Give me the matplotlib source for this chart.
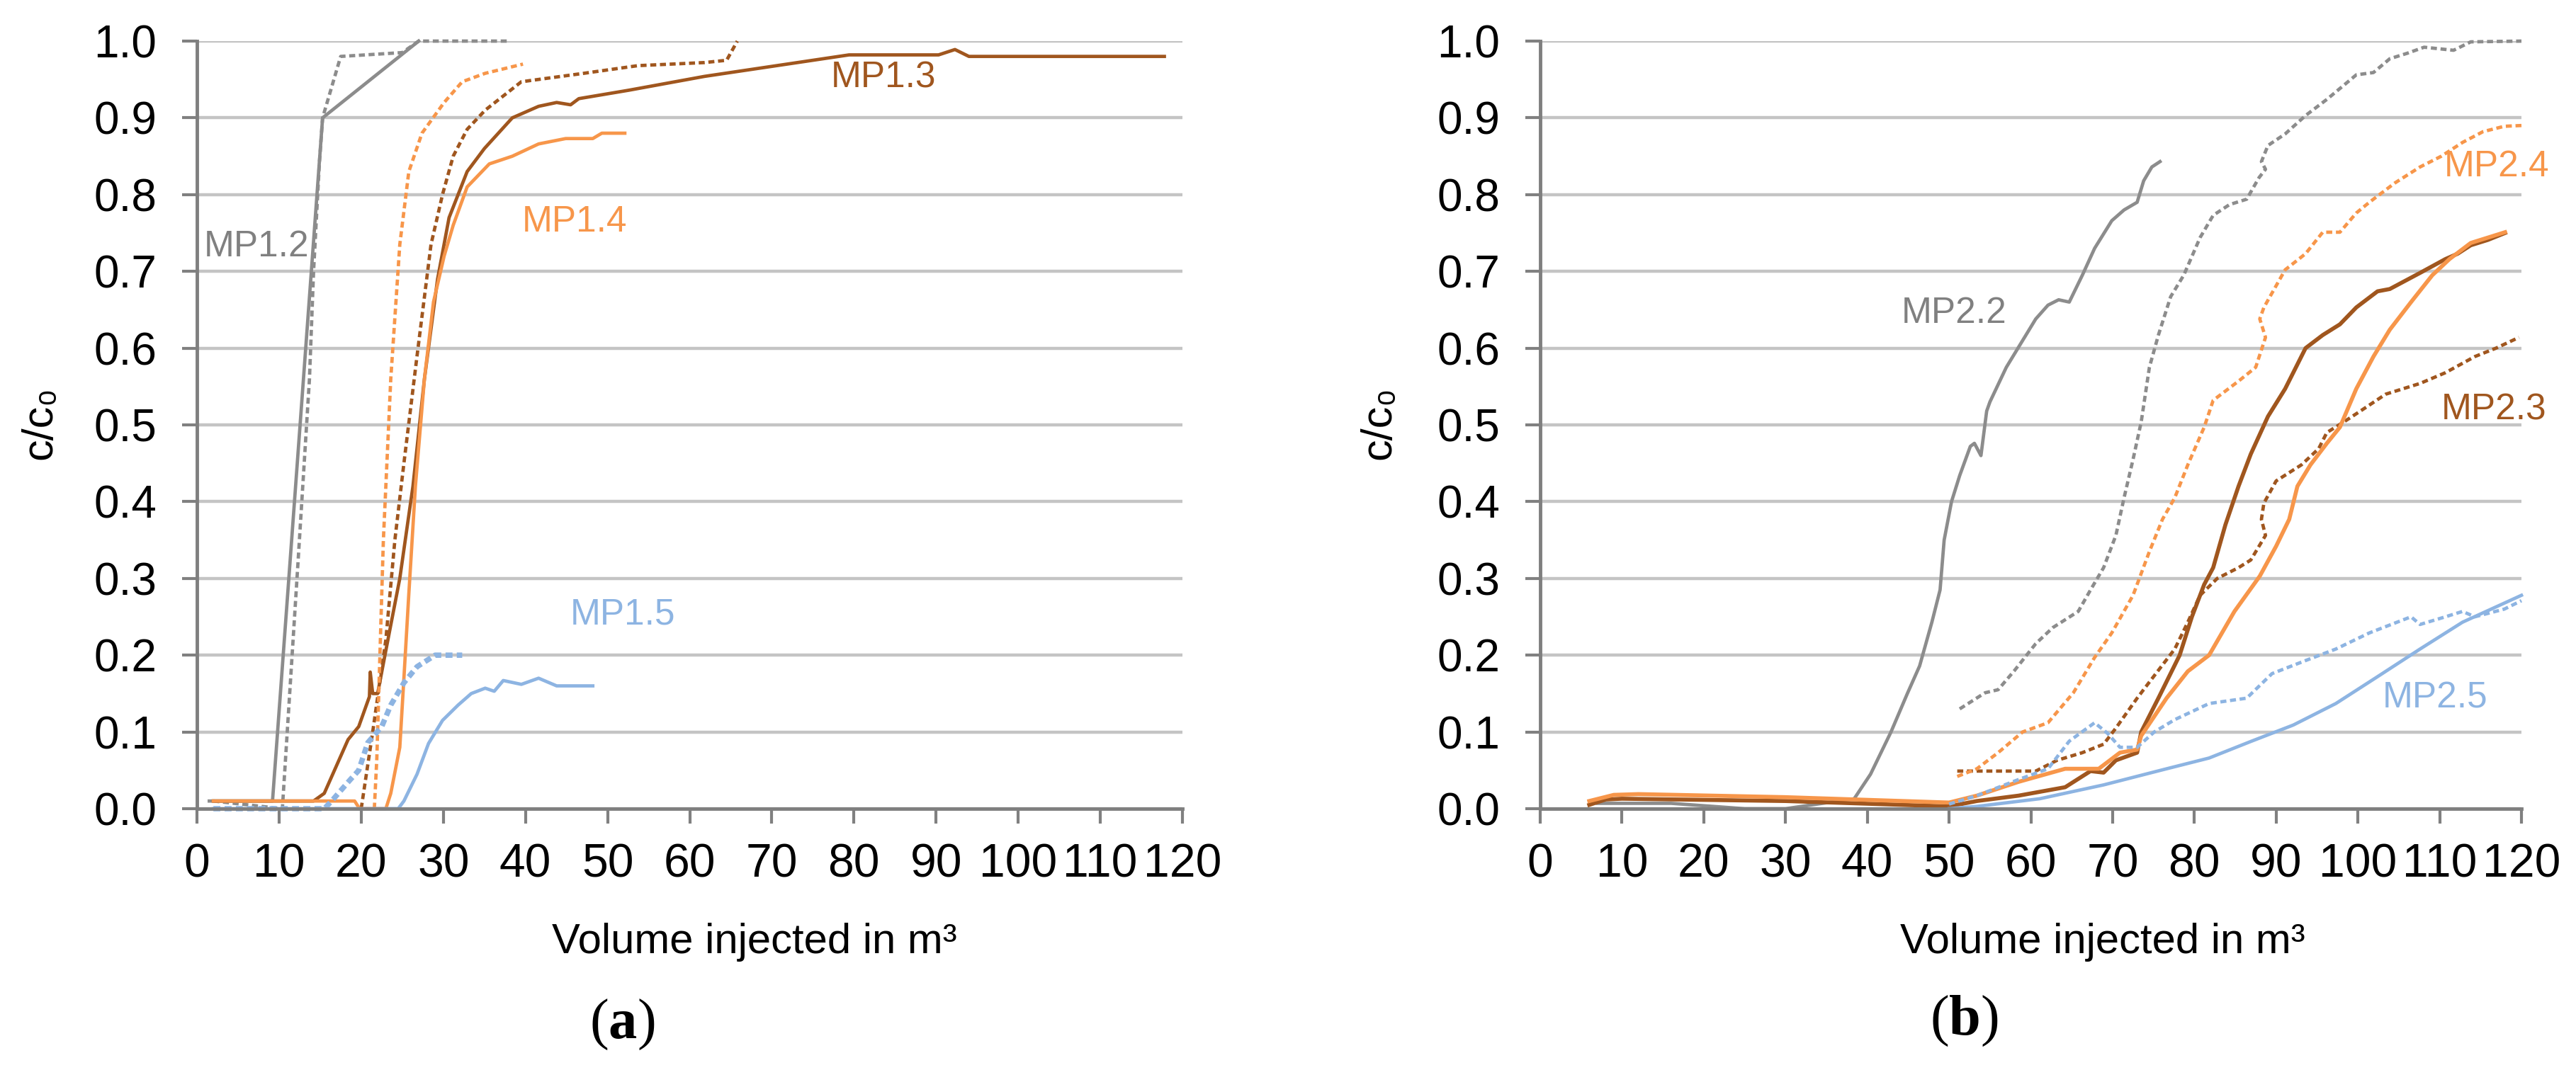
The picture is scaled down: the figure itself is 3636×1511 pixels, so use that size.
import matplotlib
matplotlib.use("Agg")
import matplotlib.pyplot as plt

plt.rcParams['font.family'] = ['Liberation Sans', 'DejaVu Sans']
plt.rcParams['mathtext.fontset'] = 'custom'
plt.rcParams['mathtext.rm'] = 'Liberation Serif'
plt.rcParams['mathtext.bf'] = 'Liberation Serif:bold'

GREY = '#8c8c8c'
BROWN = '#a0561e'
ORANGE = '#f7964a'
BLUE = '#8db4e2'

# ---------------- Panel (a) data ----------------
mp12_x = [1.5, 9.2, 15.3, 27.0]
mp12_y = [0.01, 0.01, 0.90, 1.00]
mp12d_x = [2, 10.4, 12.3, 13.7, 14.2, 14.9, 15.3, 17.5, 25.0, 27.0, 38.0]
mp12d_y = [0.01, 0.0, 0.32, 0.56, 0.70, 0.84, 0.90, 0.98, 0.985, 1.0, 1.0]

mp13_x = [2, 14.2, 15.5, 18.4, 19.7, 21.0, 21.1, 21.4, 22.0, 23.0, 24.7, 26.3, 27.7, 29.3, 30.7,
          32.9, 35.0, 38.4, 41.6, 43.8, 45.5, 46.5, 52.6, 61.8, 79.4, 90.3, 92.3, 94.0, 117.8]
mp13_y = [0.01, 0.01, 0.02, 0.09, 0.107, 0.146, 0.178, 0.15, 0.15, 0.206, 0.30, 0.42, 0.56, 0.69, 0.77,
          0.83, 0.86, 0.90, 0.915, 0.92, 0.917, 0.925, 0.936, 0.954, 0.982, 0.982, 0.989, 0.98, 0.98]
mp13d_x = [20.0, 21.4, 23.0, 24.1, 25.2, 26.8, 28.5, 29.9, 31.2, 32.9, 35.1, 39.5, 47.1, 53.7, 61.8, 64.5, 65.8]
mp13d_y = [0.0, 0.10, 0.22, 0.35, 0.45, 0.59, 0.735, 0.80, 0.85, 0.885, 0.91, 0.947, 0.958, 0.968, 0.972, 0.975, 1.0]

mp14_x = [2, 19.2, 19.8, 23.0, 23.6, 24.7, 25.2, 25.8, 26.6, 27.7, 28.8, 30.1, 31.2, 32.9, 35.6,
          38.4, 41.6, 44.9, 48.2, 49.3, 52.1]
mp14_y = [0.01, 0.01, 0.0, 0.0, 0.02, 0.08, 0.17, 0.28, 0.42, 0.56, 0.66, 0.72, 0.76, 0.81, 0.84,
          0.85, 0.866, 0.873, 0.873, 0.88, 0.88]
mp14d_x = [21.6, 21.9, 22.7, 23.6, 24.7, 25.8, 27.4, 30.1, 32.3, 35.1, 39.7]
mp14d_y = [0.0, 0.065, 0.35, 0.56, 0.735, 0.83, 0.88, 0.92, 0.947, 0.958, 0.97]

mp15_x = [2, 24.5, 25.2, 26.8, 28.2, 29.9, 31.8, 33.4, 35.1, 36.2, 37.3, 39.5, 41.6, 43.8, 48.2]
mp15_y = [0.0, 0.0, 0.01, 0.045, 0.085, 0.115, 0.135, 0.15, 0.157, 0.153, 0.167, 0.162, 0.17, 0.16, 0.16]
mp15d_x = [2, 15.5, 16.4, 18.6, 19.7, 20.8, 22.5, 23.6, 25.2, 26.8, 29.0, 32.3]
mp15d_y = [0.0, 0.0, 0.01, 0.037, 0.05, 0.086, 0.107, 0.135, 0.164, 0.185, 0.2, 0.2]

# ---------------- Panel (b) data ----------------
mp22_x = [7, 16, 25, 30, 38.4, 40.4, 42.9, 44.9, 46.4, 47.9, 48.9, 49.4, 50.3, 51.3, 52.6, 53.1, 53.9,
          54.6, 55.0, 57.0, 59.0, 60.6, 62.1, 63.4, 64.7, 66.3, 67.8, 69.9, 71.4, 73.0, 73.8, 74.8, 75.8]
mp22_y = [0.007, 0.007, 0.0, 0.0, 0.013, 0.045, 0.10, 0.15, 0.186, 0.243, 0.285, 0.35, 0.40, 0.434, 0.472,
          0.476, 0.46, 0.518, 0.53, 0.575, 0.61, 0.638, 0.656, 0.663, 0.66, 0.695, 0.73, 0.766, 0.78,
          0.79, 0.818, 0.836, 0.843]
mp22d_x = [51.3, 54.4, 56.0, 58.0, 60.6, 62.7, 65.8, 67.3, 68.9, 70.4, 71.4, 72.5, 73.5, 74.5, 75.6,
           77.1, 78.7, 80.7, 82.3, 84.3, 86.4, 87.9, 88.7, 88.2, 89.0, 91.1, 93.6, 96.2, 99.8, 101.9,
           103.9, 106.0, 108.1, 111.7, 113.8, 120.0]
mp22d_y = [0.13, 0.151, 0.155, 0.18, 0.215, 0.236, 0.257, 0.285, 0.314, 0.356, 0.405, 0.455, 0.504,
           0.575, 0.617, 0.667, 0.695, 0.744, 0.773, 0.787, 0.794, 0.822, 0.833, 0.843, 0.864, 0.879,
           0.903, 0.924, 0.956, 0.959, 0.977, 0.984, 0.992, 0.988, 0.999, 1.0]

mp23_x = [6, 8, 10, 30, 50, 53.4, 58.5, 64.2, 67.3, 68.9, 70.4, 73.0, 73.5, 75.6, 78.2, 79.7, 81.2,
          82.3, 83.8, 85.4, 86.9, 89.0, 91.1, 93.6, 95.7, 97.8, 99.8, 102.4, 103.9, 107.6, 110.7,
          112.2, 113.8, 115.9, 118.0]
mp23_y = [0.005, 0.012, 0.013, 0.01, 0.003, 0.01, 0.017, 0.028, 0.049, 0.047, 0.063, 0.073, 0.10,
          0.144, 0.2, 0.25, 0.292, 0.314, 0.37, 0.42, 0.462, 0.511, 0.547, 0.6, 0.617, 0.631, 0.653,
          0.674, 0.677, 0.698, 0.716, 0.723, 0.734, 0.741, 0.75]
mp23d_x = [51.0, 60.6, 63.2, 66.3, 68.9, 70.4, 73.0, 74.5, 77.6, 79.2, 80.7, 82.8, 85.4, 86.9, 88.7,
           88.2, 88.5, 90.0, 93.1, 95.2, 96.2, 98.3, 100.3, 103.4, 107.6, 110.7, 114.3, 116.9, 119.7]
mp23d_y = [0.049, 0.049, 0.063, 0.073, 0.084, 0.105, 0.144, 0.165, 0.208, 0.243, 0.278, 0.30, 0.314,
           0.324, 0.356, 0.377, 0.398, 0.427, 0.448, 0.469, 0.49, 0.504, 0.518, 0.54, 0.554, 0.568,
           0.589, 0.60, 0.614]

mp24_x = [6, 9, 12, 30, 50, 53.4, 58.5, 64.2, 68.3, 70.9, 73.0, 73.5, 76.6, 79.2, 81.8, 84.9, 88.0,
          90.0, 91.6, 92.6, 94.2, 96.2, 97.8, 99.8, 101.9, 103.9, 106.5, 109.1, 111.2, 113.8, 118.0]
mp24_y = [0.01, 0.018, 0.019, 0.015, 0.008, 0.017, 0.035, 0.052, 0.052, 0.073, 0.077, 0.095, 0.144,
          0.179, 0.2, 0.257, 0.303, 0.342, 0.377, 0.42, 0.448, 0.476, 0.497, 0.547, 0.589, 0.624,
          0.66, 0.695, 0.716, 0.737, 0.751]
mp24d_x = [51.0, 53.4, 56.0, 59.0, 62.1, 65.2, 67.8, 69.9, 72.5, 74.5, 76.1, 77.6, 79.2, 81.2, 82.3,
           85.4, 87.5, 88.7, 88.0, 88.5, 91.1, 93.6, 95.7, 97.8, 99.8, 101.4, 104.5, 107.6, 110.2,
           112.8, 115.3, 117.9, 120.0]
mp24d_y = [0.042, 0.052, 0.073, 0.10, 0.112, 0.151, 0.197, 0.229, 0.278, 0.335, 0.377, 0.405, 0.448,
           0.497, 0.532, 0.557, 0.575, 0.614, 0.638, 0.653, 0.702, 0.723, 0.751, 0.751, 0.776, 0.79,
           0.815, 0.836, 0.85, 0.868, 0.882, 0.889, 0.89]

mp25_x = [50, 53.4, 61.1, 68.9, 76.6, 81.8, 87.0, 92.1, 97.3, 102.4, 107.6, 112.8, 120.0]
mp25_y = [0.0, 0.003, 0.013, 0.031, 0.052, 0.066, 0.088, 0.109, 0.137, 0.172, 0.208, 0.243, 0.278]
mp25d_x = [50, 53.4, 58.5, 62.1, 64.7, 67.8, 69.4, 70.9, 73.0, 75.1, 77.6, 81.8, 86.4, 89.5, 93.6,
           97.3, 101.4, 106.5, 107.6, 110.7, 112.8, 114.3, 117.9, 120.0]
mp25d_y = [0.006, 0.017, 0.038, 0.052, 0.088, 0.112, 0.098, 0.08, 0.08, 0.10, 0.116, 0.137, 0.144,
           0.176, 0.193, 0.208, 0.229, 0.25, 0.24, 0.25, 0.257, 0.25, 0.26, 0.271]

x_ticks = list(range(0, 121, 10))
y_ticks = [i / 10 for i in range(0, 11)]
y_tick_labels = [f"{v:.1f}" for v in y_ticks]

W, H = 3636, 1511
fig = plt.figure(figsize=(W / 100, H / 100), dpi=100)

LW = 3.4
DASH = (0, (1.8, 1.1))


def style_axes(ax):
    ax.set_xlim(0, 120)
    ax.set_ylim(0, 1)
    ax.set_xticks(x_ticks)
    ax.set_yticks(y_ticks)
    ax.set_yticklabels(y_tick_labels)
    ax.tick_params(axis='both', colors='#808080', labelcolor='black', width=3, length=15)
    ax.tick_params(axis='x', pad=20, labelsize=47.5)
    ax.tick_params(axis='y', pad=26, labelsize=46)
    for s in ['top', 'right']:
        ax.spines[s].set_visible(False)
    for s in ['left', 'bottom']:
        ax.spines[s].set_color('#7f7f7f')
        ax.spines[s].set_linewidth(3.5)
        ax.spines[s].set_zorder(5)
    ax.grid(axis='y', color='#c4c4c4', linewidth=3.2)
    ax.set_axisbelow(True)
    ax.set_ylabel('c/c\u2080', fontsize=44)


axA = fig.add_axes([278 / W, 1 - 1142 / H, 1391 / W, 1084 / H])
axB = fig.add_axes([2174 / W, 1 - 1142 / H, 1385 / W, 1084 / H])

for ax in (axA, axB):
    style_axes(ax)

# Panel (a)
kw = dict(clip_on=False, solid_joinstyle='round')
axA.plot(mp12_x, mp12_y, color=GREY, lw=LW, **kw)
axA.plot(mp12d_x, mp12d_y, color=GREY, lw=LW, ls=DASH, **kw)
axA.plot(mp13_x, mp13_y, color=BROWN, lw=LW, **kw)
axA.plot(mp13d_x, mp13d_y, color=BROWN, lw=LW, ls=DASH, **kw)
axA.plot(mp14_x, mp14_y, color=ORANGE, lw=LW, **kw)
axA.plot(mp14d_x, mp14d_y, color=ORANGE, lw=LW, ls=DASH, **kw)
axA.plot(mp15_x, mp15_y, color=BLUE, lw=LW, **kw)
axA.plot(mp15d_x, mp15d_y, color=BLUE, lw=LW * 1.6, ls=(0, (1.3, 0.8)), **kw)

lab = dict(fontsize=37, va='center', ha='left')
axA.text(0.8, 0.732, 'MP1.2', color='#808080', **lab)
axA.text(77.2, 0.952, 'MP1.3', color=BROWN, **lab)
axA.text(39.6, 0.764, 'MP1.4', color=ORANGE, **lab)
axA.text(45.4, 0.253, 'MP1.5', color=BLUE, **lab)

# Panel (b)
axB.plot(mp22_x, mp22_y, color=GREY, lw=LW, **kw)
axB.plot(mp22d_x, mp22d_y, color=GREY, lw=LW, ls=DASH, **kw)
axB.plot(mp23_x, mp23_y, color=BROWN, lw=LW * 1.2, **kw)
axB.plot(mp23d_x, mp23d_y, color=BROWN, lw=LW, ls=DASH, **kw)
axB.plot(mp24_x, mp24_y, color=ORANGE, lw=LW * 1.2, **kw)
axB.plot(mp24d_x, mp24d_y, color=ORANGE, lw=LW, ls=DASH, **kw)
axB.plot(mp25_x, mp25_y, color=BLUE, lw=LW, **kw)
axB.plot(mp25d_x, mp25d_y, color=BLUE, lw=LW, ls=DASH, **kw)

axB.text(44.2, 0.645, 'MP2.2', color='#808080', **lab)
axB.text(110.5, 0.836, 'MP2.4', color=ORANGE, **lab)
axB.text(110.2, 0.519, 'MP2.3', color=BROWN, **lab)
axB.text(103.0, 0.144, 'MP2.5', color=BLUE, **lab)

# axis labels
axA.set_xlabel('Volume injected in m\u00b3', fontsize=43)
axB.set_xlabel('Volume injected in m\u00b3', fontsize=43)
axA.xaxis.set_label_coords((1065 - 278) / 1391, (1142 - 1330) / 1084)
axB.xaxis.set_label_coords((2968 - 2174) / 1385, (1142 - 1330) / 1084)
axA.xaxis.label.set_va('center')
axB.xaxis.label.set_va('center')
axA.yaxis.set_label_coords((57 - 278) / 1391, 0.503)
axB.yaxis.set_label_coords((1947 - 2174) / 1385, 0.503)
axA.yaxis.label.set_va('center')
axB.yaxis.label.set_va('center')

# panel letters
fig.text(878 / W, 1 - 1447 / H, r'$\mathrm{(}\mathbf{a}\mathrm{)}$', fontsize=58, ha='center', va='center')
fig.text(2772 / W, 1 - 1442 / H, r'$\mathrm{(}\mathbf{b}\mathrm{)}$', fontsize=58, ha='center', va='center')

fig.savefig('out.png', dpi=100, facecolor='white')
